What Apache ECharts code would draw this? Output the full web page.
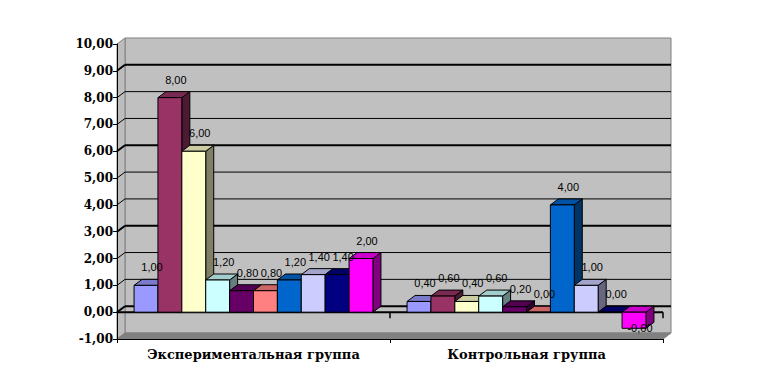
<!DOCTYPE html>
<html><head><meta charset="utf-8">
<script src="https://cdn.jsdelivr.net/npm/echarts@6/dist/echarts.min.js"></script>
<style>html,body{margin:0;padding:0;background:#fff}#c{width:775px;height:387px}</style>
</head><body><div id="c"></div>
<script>
const categories = ['Экспериментальная группа', 'Контрольная группа'];
const seriesNames = ['Ряд1','Ряд2','Ряд3','Ряд4','Ряд5','Ряд6','Ряд7','Ряд8','Ряд9','Ряд10'];
const experimentalValues = [1.00, 8.00, 6.00, 1.20, 0.80, 0.80, 1.20, 1.40, 1.40, 2.00];
const controlValues = [0.40, 0.60, 0.40, 0.60, 0.20, 0.00, 4.00, 1.00, 0.00, -0.60];
const yTicks = [-1, 0, 1, 2, 3, 4, 5, 6, 7, 8, 9, 10];
const colors = ['#9999FF','#993366','#FFFFCC','#CCFFFF','#660066','#FF8080','#0066CC','#CCCCFF','#000080','#FF00FF'];

const DX = 8, DY = -6, BAR_FILL = 0.875;
const N = seriesNames.length;
const fmt = v => v.toFixed(2).replace('.', ',');
function shade(hex, k) {
  const n = parseInt(hex.slice(1), 16);
  const r = Math.round(((n >> 16) & 255) * k), g = Math.round(((n >> 8) & 255) * k), b = Math.round((n & 255) * k);
  return 'rgb(' + r + ',' + g + ',' + b + ')';
}
function barGeom(api, cat, v, i) {
  const band = api.size([1, 0])[0];
  const barW = band * BAR_FILL / N;
  const cx = api.coord([cat, 0])[0];
  const x0 = cx - band * BAR_FILL / 2 + i * barW;
  const yz = api.coord([cat, 0])[1];
  const yv = api.coord([cat, v])[1];
  return {x0, barW, yz, yv};
}

function frameRender(params, api) {
  const cs = params.coordSys;
  const xL = cs.x, xR = cs.x + cs.width;
  const y = v => api.coord([0, v])[1];
  const yTop = y(yTicks[yTicks.length - 1]), yBot = y(yTicks[0]), y0 = y(0);
  const band = cs.width / categories.length;
  const ch = [];
  ch.push({type:'polygon', shape:{points:[[xL+DX,yTop+DY],[xR+DX,yTop+DY],[xR+DX,yBot+DY],[xL+DX,yBot+DY]]}, style:{fill:'#C0C0C0', stroke:'#808080', lineWidth:1}});
  ch.push({type:'polygon', shape:{points:[[xL,yTop],[xL+DX,yTop+DY],[xL+DX,yBot+DY],[xL,yBot]]}, style:{fill:'#BDBDBD', stroke:'#808080', lineWidth:1}});
  ch.push({type:'polygon', shape:{points:[[xL,yBot],[xL+DX,yBot+DY],[xR+DX,yBot+DY],[xR,yBot]]}, style:{fill:'#808080', stroke:'#808080', lineWidth:1}});
  yTicks.forEach(v => {
    if (v <= yTicks[0] || v >= yTicks[yTicks.length - 1]) return;
    const yy = y(v);
    const w = (v % 3 === 0) ? 2 : 1;
    ch.push({type:'line', shape:{x1:xL+DX, y1:yy+DY, x2:xR+DX, y2:yy+DY}, style:{stroke:'#000', lineWidth:w}});
    ch.push({type:'line', shape:{x1:xL, y1:yy, x2:xL+DX, y2:yy+DY}, style:{stroke:'#000', lineWidth:w}});
  });
  ch.push({type:'line', shape:{x1:xL, y1:y0, x2:xR, y2:y0}, style:{stroke:'#000', lineWidth:2}});
  for (let k = 1; k <= categories.length; k++) {
    const xx = xL + k * band;
    ch.push({type:'line', shape:{x1:xx, y1:y0, x2:xx, y2:y0 + 6}, style:{stroke:'#000', lineWidth:1.5}});
  }
  return {type:'group', children: ch};
}

function barRender(i) {
  return function (params, api) {
    const cat = api.value(0), v = api.value(1);
    const g = barGeom(api, cat, v, i);
    const x0 = g.x0, barW = g.barW;
    const yt = Math.min(g.yz, g.yv), yb = Math.max(g.yz, g.yv);
    const c = colors[i];
    return {type:'group', children:[
      {type:'polygon', shape:{points:[[x0+barW,yt],[x0+barW+DX,yt+DY],[x0+barW+DX,yb+DY],[x0+barW,yb]]}, style:{fill:shade(c,0.5), stroke:'#000', lineWidth:1}},
      {type:'polygon', shape:{points:[[x0,yt],[x0+DX,yt+DY],[x0+barW+DX,yt+DY],[x0+barW,yt]]}, style:{fill:shade(c,0.8), stroke:'#000', lineWidth:1}},
      {type:'rect', shape:{x:x0, y:yt, width:barW, height:yb-yt}, style:{fill:c, stroke:'#000', lineWidth:1}}
    ]};
  };
}

function labelRender(params, api) {
  const cat = api.value(0), v = api.value(1), i = api.value(2);
  const g = barGeom(api, cat, v, i);
  return {type:'text', style:{text:fmt(v), x:g.x0+g.barW/2+DX/2+2, y:(v < 0 ? g.yv : g.yv - 18), align:'center', verticalAlign:'middle', textAlign:'center', textVerticalAlign:'middle', font:'11px "Liberation Sans", Arial, sans-serif', fill:'#000'}};
}

const series = [{
  type:'custom', name:'frame', coordinateSystem:'cartesian2d', data:[[0, 0]], z:-1, silent:true, clip:false, renderItem: frameRender
}];
const labelData = [];
seriesNames.forEach((name, i) => {
  const d = categories.map((c, ci) => [ci, ci === 0 ? experimentalValues[i] : controlValues[i]]);
  d.forEach(p => labelData.push([p[0], p[1], i]));
  series.push({
    type:'custom', name: name, coordinateSystem:'cartesian2d', clip:false, silent:true, z:2,
    encode:{x:0, y:1}, data: d, renderItem: barRender(i)
  });
});
series.push({type:'custom', name:'labels', coordinateSystem:'cartesian2d', clip:false, silent:true, z:3,
  encode:{x:0, y:1}, data: labelData, renderItem: labelRender});

const chart = echarts.init(document.getElementById('c'), null, {renderer:'svg'});
chart.setOption({
  animation:false,
  backgroundColor:'#fff',
  grid:{left:117, right:112, top:44, bottom:48},
  xAxis:{type:'category', data:categories,
    axisLine:{onZero:false, lineStyle:{color:'#000', width:1}},
    axisTick:{show:true, length:4, lineStyle:{color:'#000'}},
    axisLabel:{interval:0, margin:9, color:'#000', fontFamily:'DejaVu Serif', fontWeight:'bold', fontSize:13},
    splitLine:{show:false}},
  yAxis:{type:'value', min:yTicks[0], max:yTicks[yTicks.length-1], interval:1,
    axisLine:{show:true, lineStyle:{color:'#000', width:1}},
    axisTick:{show:true, length:4, lineStyle:{color:'#000'}},
    axisLabel:{margin:4, color:'#000', fontFamily:'DejaVu Serif', fontWeight:'bold', fontSize:12, formatter: v => fmt(v)},
    splitLine:{show:false}},
  series: series
});
</script>
</body></html>
